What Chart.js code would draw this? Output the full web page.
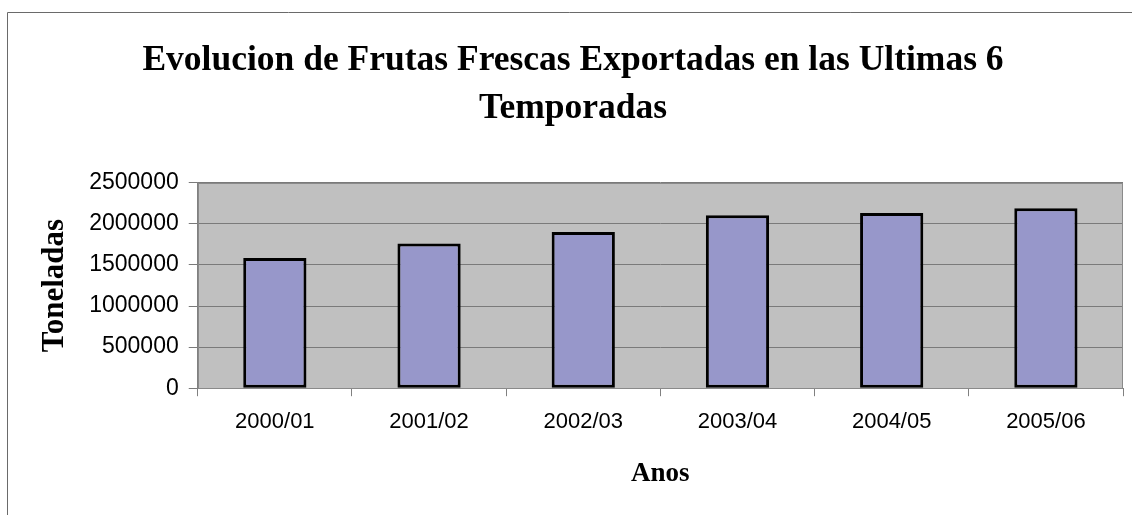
<!DOCTYPE html>
<html>
<head>
<meta charset="utf-8">
<title>Frutas Frescas Exportadas</title>
<script src="https://cdn.jsdelivr.net/npm/chart.js@4/dist/chart.umd.min.js"></script>
<style>
  html, body { margin: 0; padding: 0; background: #fff; }
  canvas { display: block; }
</style>
</head>
<body>
<canvas id="exports_chart" width="1132" height="515"></canvas>
<script>
const temporadas = ["2000/01", "2001/02", "2002/03", "2003/04", "2004/05", "2005/06"];
const toneladas = [1585000, 1763000, 1902000, 2105000, 2134000, 2190000];
const yTicks = [0, 500000, 1000000, 1500000, 2000000, 2500000];

const titleLines = ["Evolucion de Frutas Frescas Exportadas en las Ultimas 6", "Temporadas"];

// gray plot area, its border, and the outer chart frame
const excelFrame = {
  id: "excelFrame",
  beforeDraw(chart) {
    const { ctx, chartArea } = chart;
    ctx.save();
    ctx.strokeStyle = "#6a6a6a";
    ctx.lineWidth = 1;
    ctx.beginPath();
    ctx.moveTo(7.5, chart.height);
    ctx.lineTo(7.5, 12.5);
    ctx.lineTo(chart.width, 12.5);
    ctx.stroke();

    ctx.fillStyle = "#c0c0c0";
    ctx.fillRect(chartArea.left, chartArea.top, chartArea.width, chartArea.height);
    ctx.restore();
  },
  afterDatasetsDraw(chart) {
    const { ctx, chartArea } = chart;
    ctx.save();
    ctx.strokeStyle = "#8a8a8a";
    ctx.lineWidth = 1;
    ctx.strokeRect(
      Math.round(chartArea.left) + 0.5,
      Math.round(chartArea.top) + 0.5,
      Math.round(chartArea.width) - 1,
      Math.round(chartArea.height)
    );
    ctx.restore();
  },
};

new Chart(document.getElementById("exports_chart"), {
  type: "bar",
  data: {
    labels: temporadas,
    datasets: [
      {
        label: "Toneladas",
        data: toneladas,
        backgroundColor: "#9797ca",
        borderColor: "#000",
        borderWidth: 3,
        borderSkipped: false,
        categoryPercentage: 1,
        barPercentage: 0.41,
      },
    ],
  },
  options: {
    responsive: false,
    animation: false,
    devicePixelRatio: 1,
    layout: { padding: { left: 23, right: 9, top: 0, bottom: 25 } },
    plugins: {
      legend: { display: false },
      tooltip: { enabled: false },
      title: {
        display: true,
        text: titleLines,
        color: "#000",
        font: { family: "Liberation Serif", size: 35.5, weight: "bold", lineHeight: 1.35 },
        padding: { top: 37, bottom: 50 },
      },
    },
    scales: {
      x: {
        grid: {
          offset: true,
          drawOnChartArea: false,
          drawTicks: true,
          tickLength: 8,
          color: "#808080",
        },
        border: { color: "#808080" },
        ticks: {
          color: "#000",
          padding: 13,
          font: { family: "Liberation Sans", size: 22 },
        },
        title: {
          display: true,
          text: "Anos",
          color: "#000",
          font: { family: "Liberation Serif", size: 27, weight: "bold" },
          padding: { top: 9, bottom: 0 },
        },
      },
      y: {
        min: 0,
        max: 2500000,
        afterBuildTicks(scale) {
          scale.ticks = yTicks.map((v) => ({ value: v }));
        },
        grid: {
          color: "#7a7a7a",
          tickLength: 9,
        },
        border: { color: "#808080" },
        ticks: {
          color: "#000",
          padding: 10,
          font: { family: "Liberation Sans", size: 23 },
          callback: (v) => String(v),
        },
        title: {
          display: true,
          text: "Toneladas",
          color: "#000",
          font: { family: "Liberation Serif", size: 31, weight: "bold" },
          padding: { top: 13, bottom: 6 },
        },
      },
    },
  },
  plugins: [excelFrame],
});
</script>
</body>
</html>
